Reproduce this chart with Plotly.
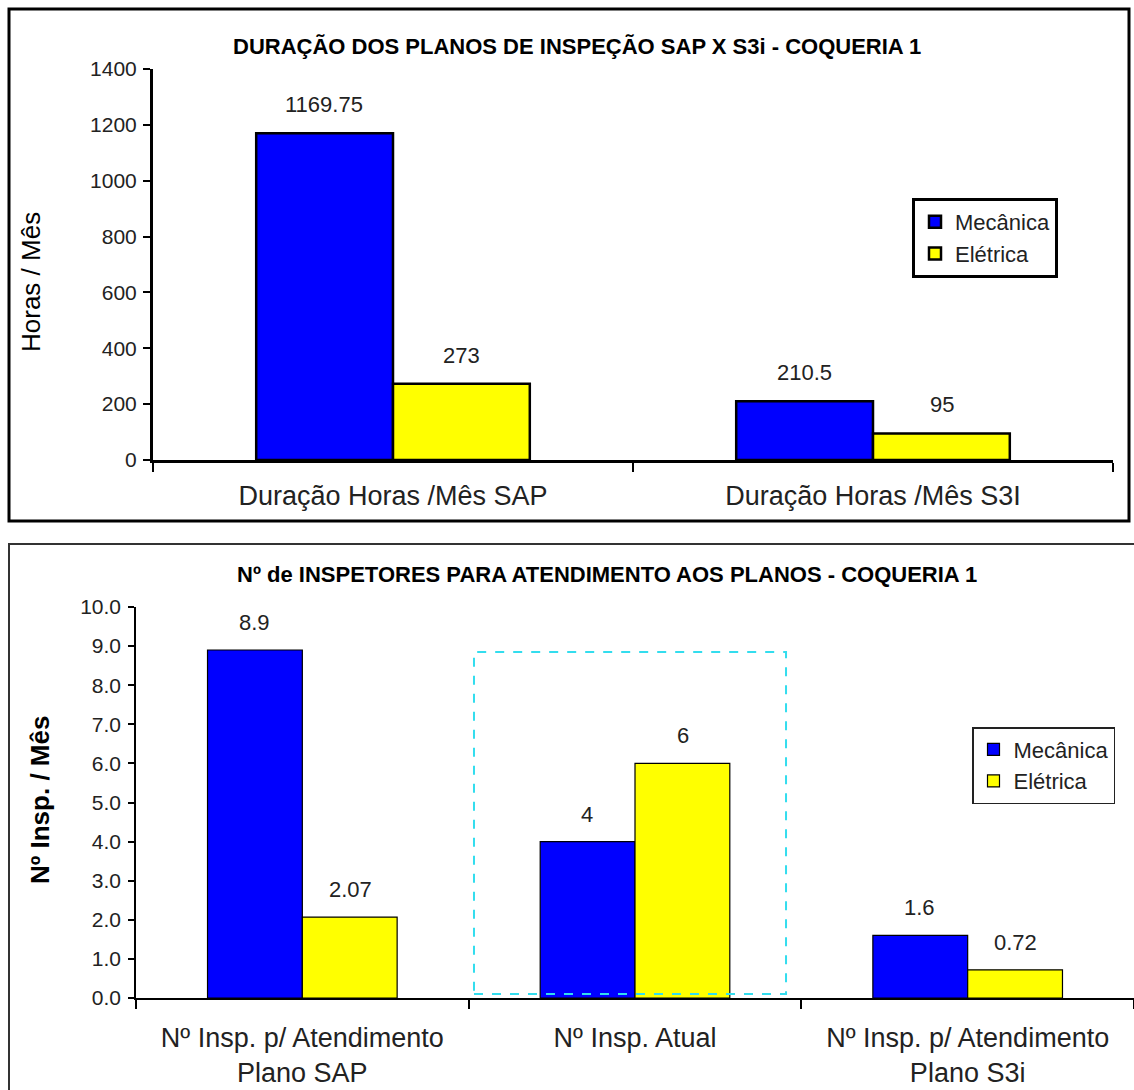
import plotly.graph_objects as go

# ---------------- data ----------------
top_categories = ["Duração Horas /Mês SAP", "Duração Horas /Mês S3I"]
top_mecanica = [1169.75, 210.5]
top_eletrica = [273, 95]
top_yticks = [0, 200, 400, 600, 800, 1000, 1200, 1400]

bot_categories = ["Nº Insp. p/ Atendimento<br>Plano SAP", "Nº Insp. Atual",
                  "Nº Insp. p/ Atendimento<br>Plano S3i"]
bot_mecanica = [8.9, 4, 1.6]
bot_eletrica = [2.07, 6, 0.72]
bot_yticks = [0, 1, 2, 3, 4, 5, 6, 7, 8, 9, 10]

series_names = ["Mecânica", "Elétrica"]
BLUE = "#0000FF"
YELLOW = "#FFFF00"

W, H = 1134, 1090
FONT = "Liberation Sans, Arial, sans-serif"


def px_x(x):
    return x / W


def px_y(y):
    return 1 - y / H


fig = go.Figure()

# top chart bars
fig.add_trace(go.Bar(x=top_categories, y=top_mecanica, name=series_names[0],
                     marker=dict(color=BLUE, line=dict(color="black", width=2.5)),
                     xaxis="x", yaxis="y", legend="legend", legendgroup="a"))
fig.add_trace(go.Bar(x=top_categories, y=top_eletrica, name=series_names[1],
                     marker=dict(color=YELLOW, line=dict(color="black", width=2.5)),
                     xaxis="x", yaxis="y", legend="legend", legendgroup="b"))
# bottom chart bars
fig.add_trace(go.Bar(x=bot_categories, y=bot_mecanica, name=series_names[0],
                     marker=dict(color=BLUE, line=dict(color="black", width=1.2)),
                     xaxis="x2", yaxis="y2", legend="legend2", legendgroup="c"))
fig.add_trace(go.Bar(x=bot_categories, y=bot_eletrica, name=series_names[1],
                     marker=dict(color=YELLOW, line=dict(color="black", width=1.2)),
                     xaxis="x2", yaxis="y2", legend="legend2", legendgroup="d"))

annotations = []
LBL = dict(size=22, color="#222")
# data labels
top_off = 0.143
for i, v in enumerate(top_mecanica):
    annotations.append(dict(x=i - top_off, y=v, xref="x", yref="y", text=f"{v:g}",
                            showarrow=False, yanchor="bottom", yshift=14, font=LBL))
for i, v in enumerate(top_eletrica):
    annotations.append(dict(x=i + top_off, y=v, xref="x", yref="y", text=f"{v:g}",
                            showarrow=False, yanchor="bottom", yshift=14, font=LBL))
bot_off = 0.145
for i, v in enumerate(bot_mecanica):
    annotations.append(dict(x=i - bot_off, y=v, xref="x2", yref="y2", text=f"{v:g}",
                            showarrow=False, yanchor="bottom", yshift=13, font=LBL))
for i, v in enumerate(bot_eletrica):
    annotations.append(dict(x=i + bot_off, y=v, xref="x2", yref="y2", text=f"{v:g}",
                            showarrow=False, yanchor="bottom", yshift=13, font=LBL))

# titles
annotations.append(dict(x=px_x(577), y=px_y(46), xref="paper", yref="paper",
                        xanchor="center", yanchor="middle",
                        text="<b>DURAÇÃO DOS PLANOS DE INSPEÇÃO SAP X S3i - COQUERIA 1</b>",
                        showarrow=False, font=dict(size=22, color="black")))
annotations.append(dict(x=px_x(607), y=px_y(575), xref="paper", yref="paper",
                        xanchor="center", yanchor="middle",
                        text="<b>Nº de INSPETORES PARA ATENDIMENTO AOS PLANOS - COQUERIA 1</b>",
                        showarrow=False, font=dict(size=22, color="black")))
# axis titles
annotations.append(dict(x=px_x(31), y=px_y(282), xref="paper", yref="paper",
                        xanchor="center", yanchor="middle",
                        text="Horas / Mês", textangle=-90, showarrow=False,
                        font=dict(size=26, color="black")))
annotations.append(dict(x=px_x(40), y=px_y(800), xref="paper", yref="paper",
                        xanchor="center", yanchor="middle",
                        text="<b>Nº Insp. / Mês</b>", textangle=-90, showarrow=False,
                        font=dict(size=26, color="black")))

shapes = [
    # outer borders
    dict(type="rect", xref="paper", yref="paper", x0=px_x(9), x1=px_x(1129),
         y0=px_y(521), y1=px_y(9), line=dict(color="black", width=3)),
    dict(type="rect", xref="paper", yref="paper", x0=px_x(9), x1=px_x(1145),
         y0=px_y(1100), y1=px_y(544), line=dict(color="#333", width=2)),
    # highlight box around current inspectors
    dict(type="rect", xref="x2", yref="y2", x0=0.516, x1=1.454, y0=0.1, y1=8.85,
         line=dict(color="#33DDEE", width=2, dash="dash")),
]

axis_font = dict(size=21, color="#222", family=FONT)
cat_font = dict(size=27, color="#222", family=FONT)

fig.update_layout(
    width=W, height=H,
    margin=dict(l=0, r=0, t=0, b=0, autoexpand=False),
    paper_bgcolor="white", plot_bgcolor="white",
    font=dict(family=FONT, color="black"),
    barmode="group", bargap=0.43, bargroupgap=0,
    annotations=annotations, shapes=shapes,
    xaxis=dict(domain=[px_x(153), px_x(1113)], anchor="y", type="category",
               range=[-0.5, 1.5], showline=True, linecolor="black", linewidth=3,
               ticks="outside", tickson="boundaries", ticklen=9, tickwidth=2,
               tickcolor="black", tickfont=cat_font, ticklabelstandoff=10,
               showgrid=False, zeroline=False, automargin=False),
    yaxis=dict(domain=[px_y(460), px_y(69)], anchor="x", range=[0, 1400],
               tickvals=top_yticks, showline=True, linecolor="black", linewidth=3,
               ticks="outside", ticklen=7, tickwidth=2, tickcolor="black",
               tickfont=axis_font, ticklabelstandoff=2,
               showgrid=False, zeroline=False, automargin=False),
    xaxis2=dict(domain=[px_x(136), 1.0], anchor="y2", type="category",
                range=[-0.5, 2.5], showline=True, linecolor="black", linewidth=1.5,
                ticks="outside", tickson="boundaries", ticklen=9, tickwidth=1.5,
                tickcolor="black", tickfont=cat_font, ticklabelstandoff=15,
                showgrid=False, zeroline=False, automargin=False),
    yaxis2=dict(domain=[px_y(998), px_y(607)], anchor="x2", range=[0, 10],
                tickvals=bot_yticks, tickformat=".1f", showline=True, linecolor="black",
                linewidth=1.5, ticks="outside", ticklen=6, tickwidth=1.5,
                tickcolor="black", tickfont=axis_font, ticklabelstandoff=3,
                showgrid=False, zeroline=False, automargin=False),
    legend=dict(x=px_x(912), y=px_y(198), xanchor="left", yanchor="top",
                bordercolor="black", borderwidth=3, bgcolor="white",
                font=dict(size=22, color="#222"), tracegroupgap=10,
                traceorder="normal"),
    legend2=dict(x=px_x(972), y=px_y(727), xanchor="left", yanchor="top",
                 bordercolor="#222", borderwidth=1.5, bgcolor="white",
                 font=dict(size=22, color="#222"), tracegroupgap=10,
                 traceorder="normal"),
)

fig.write_html("out.html", config={"displayModeBar": False},
               post_script="document.body.style.margin='0';")
